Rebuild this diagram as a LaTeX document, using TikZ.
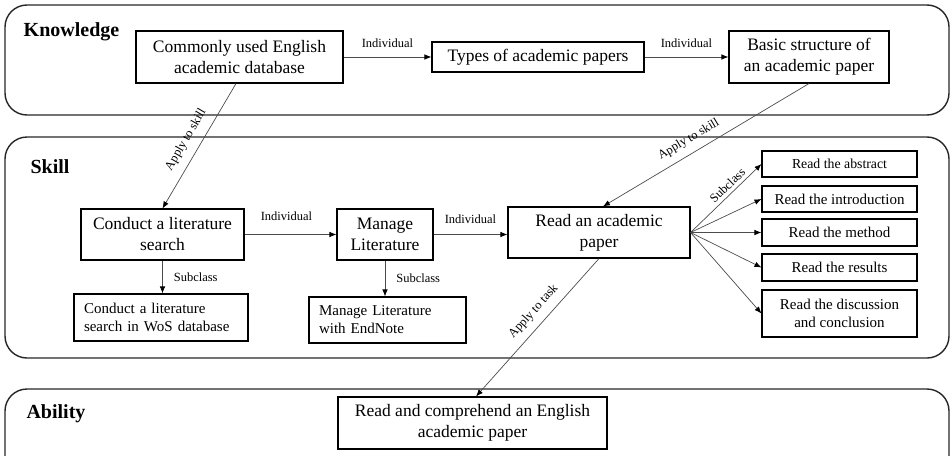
\documentclass[tikz,border=0pt]{standalone}
\usepackage{fontspec}
\setmainfont{Liberation Serif}
\usetikzlibrary{arrows.meta}

\begin{document}
\begin{tikzpicture}[x=1pt,y=-1pt,
  panel/.style={draw=black!85, line width=1.4pt, rounded corners=22pt},
  layer/.style={font=\fontsize{20}{24}\selectfont\bfseries, inner sep=0pt},
  box/.style={draw=black, line width=1.1pt, align=center, inner sep=2pt,
              font=\fontsize{17.5}{21}\selectfont},
  sbox/.style={box, minimum width=155pt, font=\fontsize{15}{18}\selectfont},
  lbox/.style={draw=black, line width=1.1pt, align=left, inner xsep=10pt,
               inner ysep=0pt, font=\fontsize{15}{18}\selectfont},
  link/.style={draw=black!70, line width=0.7pt,
               -{Latex[length=7pt,width=5.5pt,color=black]}},
  lab/.style={font=\fontsize{12.5}{14}\selectfont, inner sep=1pt},
]
\useasboundingbox (0,0) rectangle (952,455);

% the three layers
\draw[panel] (5,5) rectangle (949,115);
\draw[panel] (5,137) rectangle (949,358);
\begin{scope}
  \clip (0,0) rectangle (952,455);
  \draw[panel] (5,389) rectangle (949,490);
\end{scope}

\node[layer] (kn) at (71.5,32) {Knowledge};
\node[layer] (sk) at (50,166.5) {Skill};
\node[layer] (ab) at (56,414) {Ability};

% knowledge
\node[box, minimum width=207pt, minimum height=52pt] (db) at (239.5,57)
  {Commonly used English\\academic database};
\node[box, minimum width=212pt, minimum height=30pt] (types) at (538,57)
  {Types of academic papers};
\node[box, minimum width=160pt, minimum height=52pt] (basic) at (809,57)
  {Basic structure of\\an academic paper};

% skill
\node[box, minimum width=163pt, minimum height=51pt] (conduct) at (162.5,234.5)
  {Conduct a literature\\search};
\node[box, minimum width=96pt, minimum height=51pt] (manage) at (385,234.5)
  {Manage\\Literature};
\node[box, minimum width=182pt, minimum height=51pt] (read) at (599,232.5)
  {Read an academic\\paper};
\node[lbox, text width=154pt, minimum height=47pt] (wos) at (161,317.5)
  {Conduct a literature\\search in WoS database};
\node[lbox, text width=137pt, minimum height=46pt] (endnote) at (387.5,320)
  {Manage Literature\\with EndNote};

\node[sbox, minimum height=26pt, font=\fontsize{13.8}{16}\selectfont] (abs) at (839.5,164)
  {Read the abstract};
\node[sbox, minimum height=26pt] (intro) at (839.5,199) {Read the introduction};
\node[sbox, minimum height=27pt] (method) at (839.5,232.5) {Read the method};
\node[sbox, minimum height=27pt] (results) at (839.5,267.5) {Read the results};
\node[sbox, minimum height=47pt] (disc) at (839.5,313.5)
  {Read the discussion\\and conclusion};

% ability
\node[box, minimum width=269pt, minimum height=52pt] (comp) at (472.5,423)
  {Read and comprehend an English\\academic paper};

% relations inside layers
\draw[link] (db) -- node[lab, above=8pt] {Individual} (types);
\draw[link] (types) -- node[lab, above=8pt] {Individual} (basic);
\draw[link] (conduct) -- node[lab, above=13pt, xshift=-4pt] {Individual} (manage);
\draw[link] (manage.east) -- node[lab, above=10pt] {Individual} (read.west |- manage.east);
\draw[link] (conduct.south) -- node[lab, right=10pt] {Subclass} (conduct.south |- wos.north);
\draw[link] (manage.south) -- node[lab, right=10pt] {Subclass} (manage.south |- endnote.north);

\draw[link] (read.east) -- node[lab, pos=0.6, sloped, above=2.5pt] {Subclass} (abs.west);
\draw[link] (read.east) -- (intro.west);
\draw[link] (read.east) -- (method.west);
\draw[link] (read.east) -- (results.west);
\draw[link] (read.east) -- (disc.west);

% relations across layers
\draw[link] ([xshift=-3.5pt]db.south) --
  node[lab, pos=0.51, sloped, above=7.5pt] {Apply to skill} (conduct.north);
\draw[link] (basic.south) --
  node[lab, pos=0.55, sloped, above=6.5pt] {Apply to skill} ([xshift=4pt]read.north);
\draw[link] (read.south) --
  node[lab, pos=0.45, sloped, above=6.5pt] {Apply to task} ([xshift=3.5pt]comp.north);
\end{tikzpicture}
\end{document}
